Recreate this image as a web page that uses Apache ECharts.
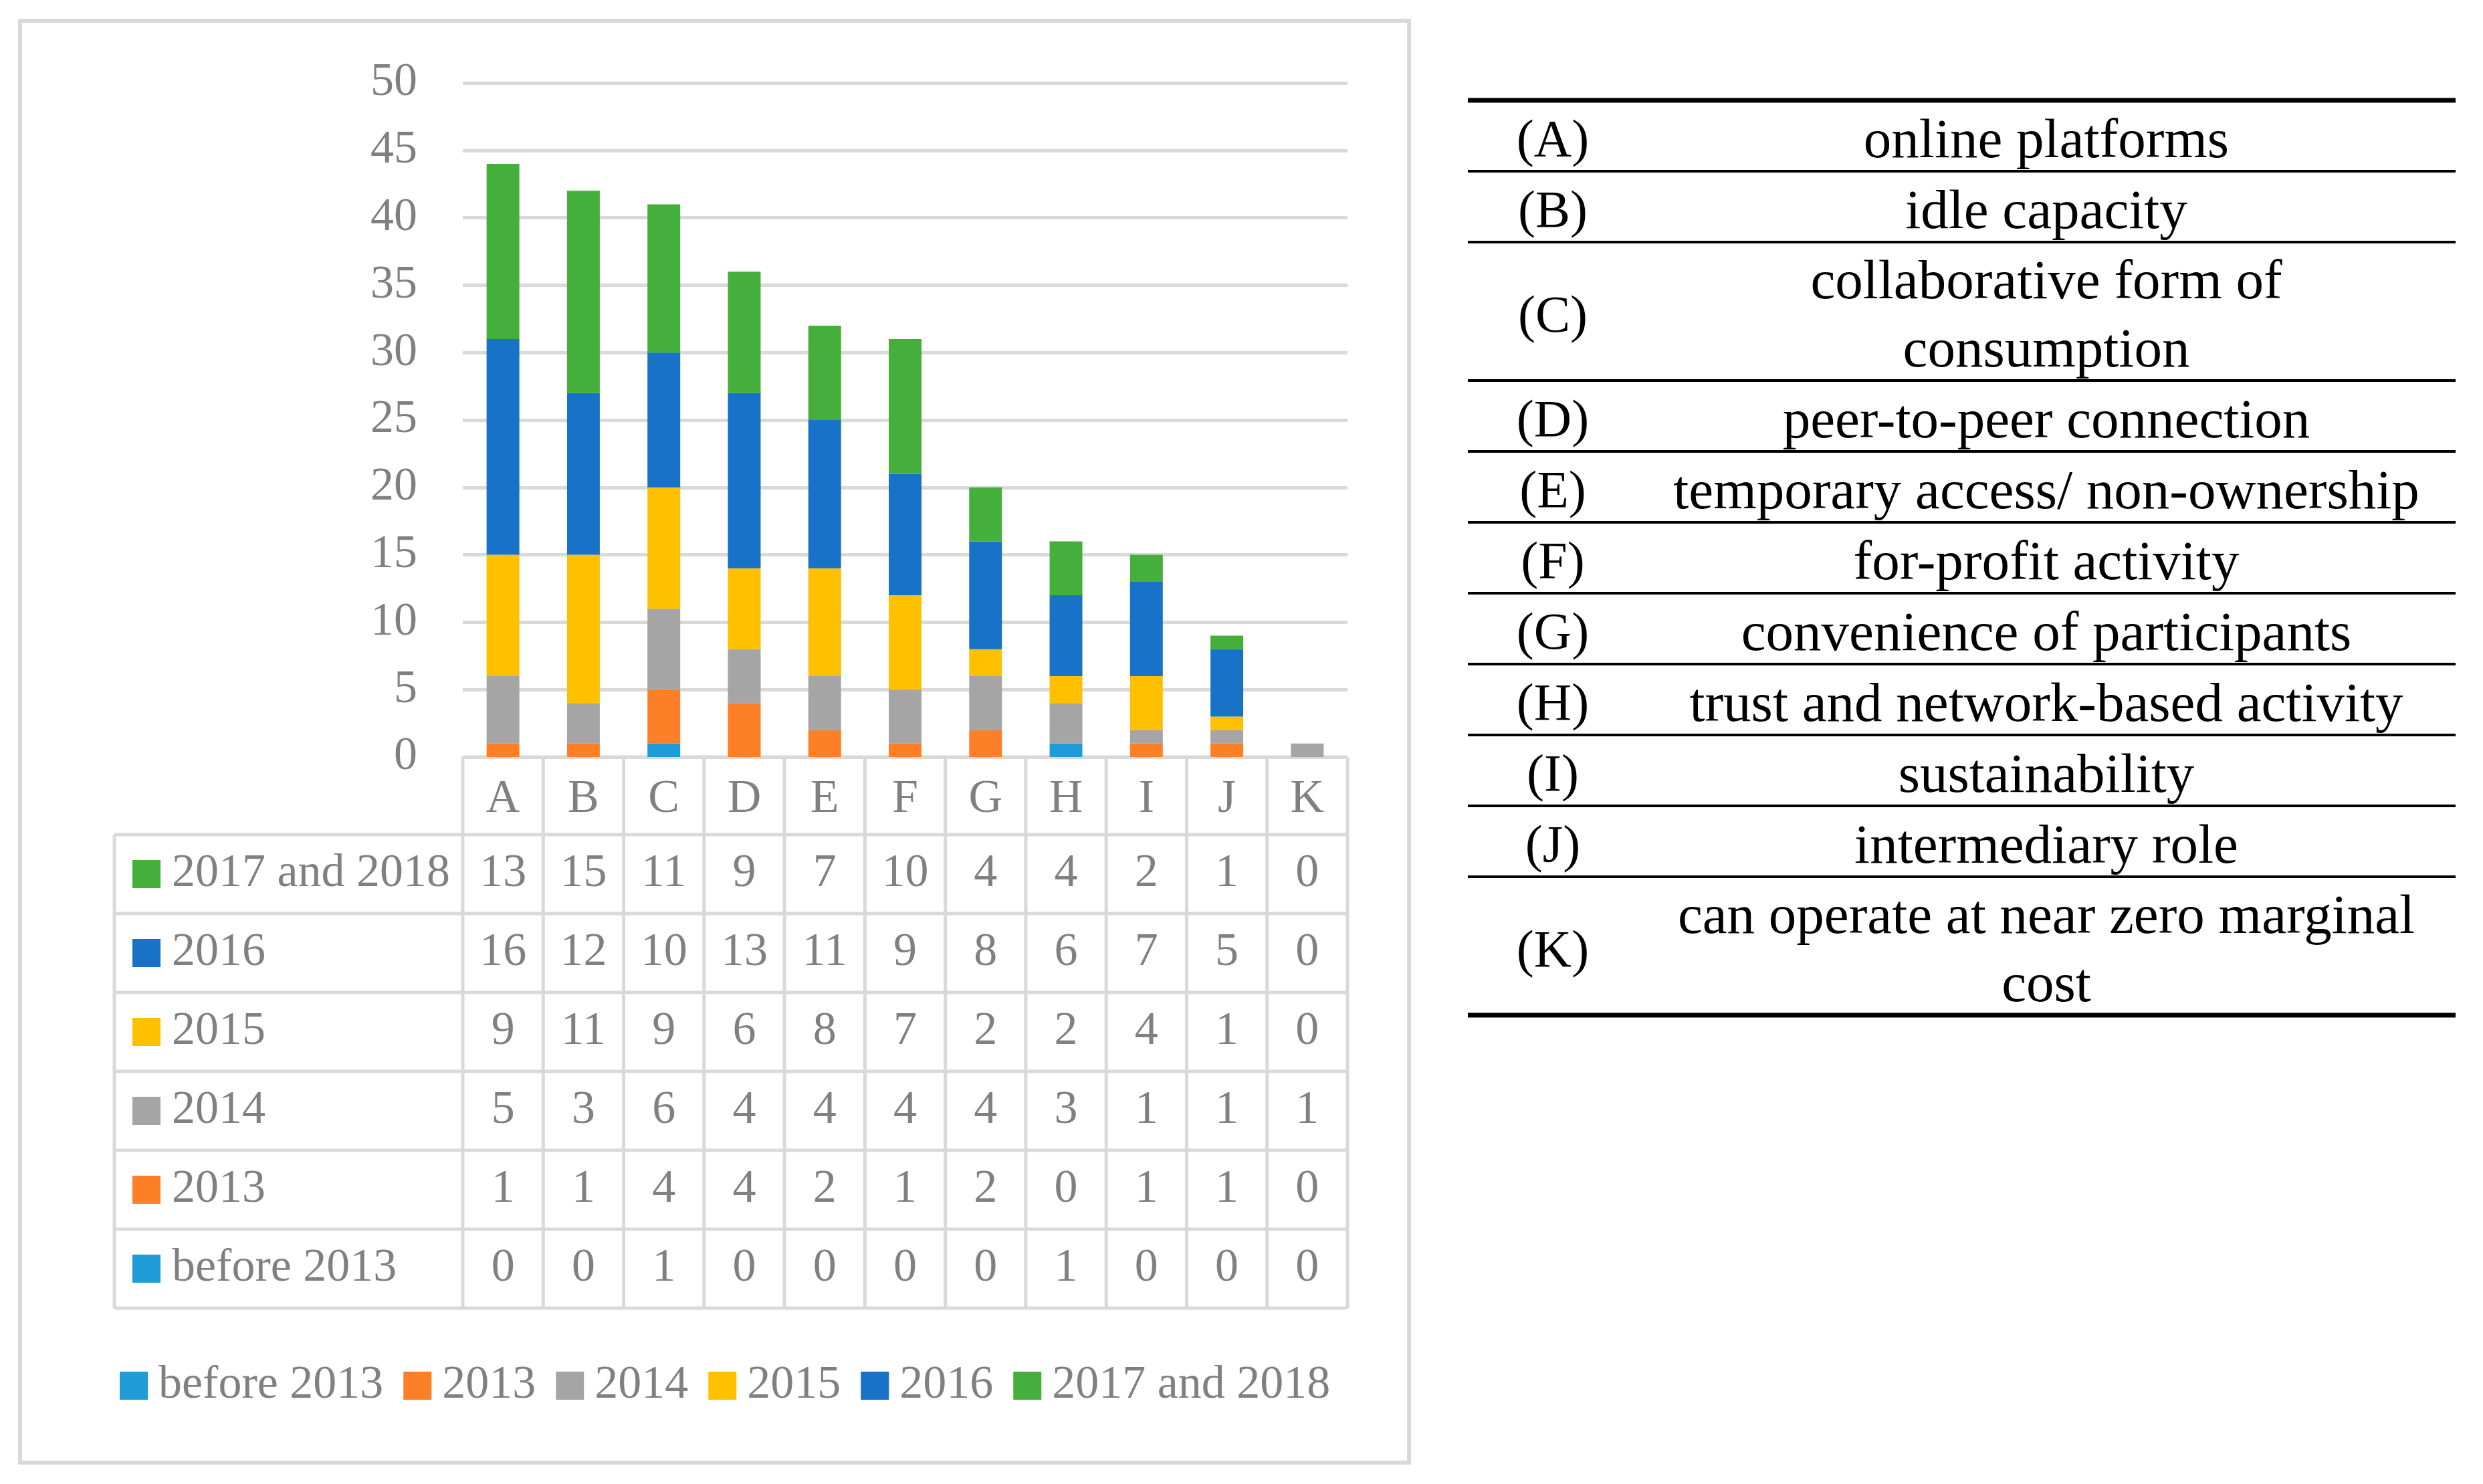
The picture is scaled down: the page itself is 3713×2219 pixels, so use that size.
<!DOCTYPE html>
<html>
<head>
<meta charset="utf-8">
<script src="https://cdn.jsdelivr.net/npm/echarts@6/dist/echarts.min.js"></script>
<style>
  html, body { margin: 0; padding: 0; background: #fff; }
  #main { width: 3713px; height: 2219px; }
</style>
</head>
<body>
<div id="main"></div>
<script>
var categories = ['A', 'B', 'C', 'D', 'E', 'F', 'G', 'H', 'I', 'J', 'K'];
var seriesNames = ['before 2013', '2013', '2014', '2015', '2016', '2017 and 2018'];
var before2013 = [0, 0, 1, 0, 0, 0, 0, 1, 0, 0, 0];
var y2013 = [1, 1, 4, 4, 2, 1, 2, 0, 1, 1, 0];
var y2014 = [5, 3, 6, 4, 4, 4, 4, 3, 1, 1, 1];
var y2015 = [9, 11, 9, 6, 8, 7, 2, 2, 4, 1, 0];
var y2016 = [16, 12, 10, 13, 11, 9, 8, 6, 7, 5, 0];
var y2017and2018 = [13, 15, 11, 9, 7, 10, 4, 4, 2, 1, 0];
var seriesValues = [before2013, y2013, y2014, y2015, y2016, y2017and2018];
var seriesColors = ['#1f9cd8', '#fd7f27', '#a5a5a5', '#ffc000', '#1873c8', '#45af3c'];

// y axis ticks
var yMin = 0, yMax = 50, yStep = 5;

// legend table on the right
var codes = ['(A)', '(B)', '(C)', '(D)', '(E)', '(F)', '(G)', '(H)', '(I)', '(J)', '(K)'];
var definitions = [
  'online platforms',
  'idle capacity',
  'collaborative form of\nconsumption',
  'peer-to-peer connection',
  'temporary access/ non-ownership',
  'for-profit activity',
  'convenience of participants',
  'trust and network-based activity',
  'sustainability',
  'intermediary role',
  'can operate at near zero marginal\ncost'
];

var FONT = "'Palatino Linotype', 'Book Antiqua', 'Liberation Serif', serif";
var GREY = '#808080';
var LINE = '#d9d9d9';

var chart = echarts.init(document.getElementById('main'), null, { renderer: 'canvas' });

var series = seriesNames.map(function (name, i) {
  return {
    name: name,
    type: 'bar',
    stack: 'total',
    barWidth: 49,
    itemStyle: { color: seriesColors[i] },
    data: seriesValues[i]
  };
});

var option = {
  animation: false,
  backgroundColor: '#fff',
  grid: { left: 692, right: 1698, top: 124, bottom: 1087, containLabel: false },
  xAxis: {
    type: 'category',
    data: categories,
    axisLine: { show: false },
    axisTick: { show: false },
    axisLabel: { fontSize: 70, fontFamily: FONT, color: GREY, margin: 64, verticalAlign: 'middle' }
  },
  yAxis: {
    type: 'value',
    min: yMin, max: yMax, interval: yStep,
    axisLine: { show: false },
    axisTick: { show: false },
    axisLabel: { fontSize: 70, fontFamily: FONT, color: GREY, margin: 68 },
    splitLine: { lineStyle: { color: LINE, width: 5 } }
  },
  legend: {
    data: seriesNames,
    left: 174,
    top: 2032,
    icon: 'rect',
    itemWidth: 42,
    itemHeight: 42,
    itemGap: 30,
    textStyle: { fontSize: 70, fontFamily: FONT, color: GREY, padding: [0, 0, 0, 11] }
  },
  series: series
};
chart.setOption(option);

// ---- data table under the plot + right-hand definitions table ----
var g = [];
function hline(x1, x2, y, color, w) {
  g.push({ type: 'line', silent: true, shape: { x1: x1, y1: y, x2: x2, y2: y }, style: { stroke: color, lineWidth: w } });
}
function vline(x, y1, y2, color, w) {
  g.push({ type: 'line', silent: true, shape: { x1: x, y1: y1, x2: x, y2: y2 }, style: { stroke: color, lineWidth: w } });
}
function txt(s, x, y, size, color, align, lh) {
  g.push({
    type: 'text', silent: true, x: x, y: y,
    style: { text: s, font: size + 'px ' + FONT, fill: color, align: align || 'center', verticalAlign: 'middle', lineHeight: lh || size * 1.2 }
  });
}

// outer chart frame
g.push({ type: 'rect', silent: true, shape: { x: 30, y: 31, width: 2077, height: 2156 }, style: { fill: null, stroke: LINE, lineWidth: 6 } });

var centers = categories.map(function (c) { return chart.convertToPixel({ xAxisIndex: 0 }, c); });
var band = centers[1] - centers[0];
var plotL = centers[0] - band / 2;
var plotR = centers[centers.length - 1] + band / 2;
var tableTop = chart.convertToPixel({ yAxisIndex: 0 }, 0);
var tableLeft = 171;
var headH = 116, rowH = 118;
var rowsTop = tableTop + headH;
var tableBottom = rowsTop + rowH * seriesNames.length;

// grid lines of the data table
hline(plotL, plotR, tableTop, LINE, 5);
for (var r = 0; r <= seriesNames.length; r++) {
  hline(tableLeft, plotR, rowsTop + r * rowH, LINE, 5);
}
vline(tableLeft, rowsTop, tableBottom, LINE, 5);
for (var c = 0; c <= categories.length; c++) {
  vline(plotL + c * band, tableTop, tableBottom, LINE, 5);
}

// rows: newest group on top
for (var k = 0; k < seriesNames.length; k++) {
  var si = seriesNames.length - 1 - k;
  var cy = rowsTop + k * rowH + rowH / 2;
  g.push({ type: 'rect', silent: true, shape: { x: 198, y: cy - 21, width: 42, height: 42 }, style: { fill: seriesColors[si] } });
  txt(seriesNames[si], 257, cy, 70, GREY, 'left');
  for (var j = 0; j < categories.length; j++) {
    txt(String(seriesValues[si][j]), centers[j], cy, 70, GREY, 'center');
  }
}

// right-hand table
var tL = 2195, tR = 3672, codeX = 2322, defX = 3060;
var singleH = 106, doubleH = 207;
var y = 150;
hline(tL, tR, y, '#000', 7);
for (var i = 0; i < codes.length; i++) {
  var lines = definitions[i].split('\n').length;
  var h = lines > 1 ? doubleH : singleH;
  txt(codes[i], codeX, y + h / 2 + 10, 78, '#000', 'center');
  txt(definitions[i], defX, y + h / 2 + 10, 83, '#000', 'center', 102);
  y += h;
  hline(tL, tR, y, '#000', i === codes.length - 1 ? 7 : 4);
}

chart.setOption({ graphic: g });
</script>
</body>
</html>
